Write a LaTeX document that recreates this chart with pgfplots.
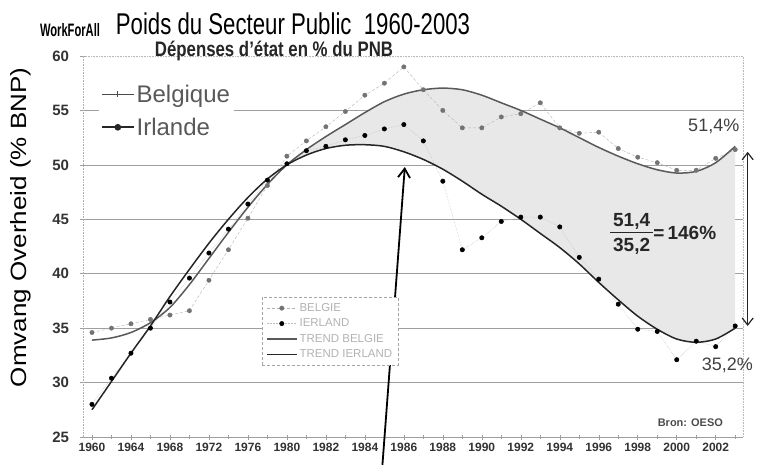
\documentclass[border=0pt]{standalone}
\usepackage{pgfplots}
\pgfplotsset{compat=1.18}
\usepackage{pgfplotstable}
\usepgfplotslibrary{fillbetween}
\usetikzlibrary{arrows.meta,calc}
\usepackage{graphicx}
\usepackage{fontspec}
\setmainfont{Liberation Sans}

% observed values, idx = position on the category axis
\pgfplotstableread{
idx year bel  irl
0  1960 34.6 28.0
1  1962 35.0 30.4
2  1964 35.4 32.7
3  1966 35.8 35.0
4  1968 36.2 37.4
5  1970 36.6 39.6
6  1972 39.4 41.9
7  1974 42.2 44.1
8  1976 45.1 46.4
9  1978 48.1 48.6
10 1980 50.8 50.1
11 1981 52.2 51.3
12 1982 53.5 51.7
13 1983 54.9 52.3
14 1984 56.4 52.7
15 1985 57.5 53.3
16 1986 59.0 53.7
17 1987 56.9 52.2
18 1988 55.0 48.5
19 1989 53.4 42.2
20 1990 53.4 43.3
21 1991 54.4 44.8
22 1992 54.7 45.2
23 1993 55.7 45.2
24 1994 53.4 44.3
25 1995 52.9 41.5
26 1996 53.0 39.5
27 1997 51.5 37.2
28 1998 50.7 34.9
29 1999 50.2 34.7
30 2000 49.5 32.1
31 2001 49.5 33.8
32 2002 50.6 33.3
33 2003 51.4 35.2
}\obs

% trend curves
\pgfplotstableread{
idx tbel  tirl
0  33.9  27.5
1  34.1  30.1
2  34.6  32.7
3  35.5  35.2
4  36.9  37.9
5  39.0  40.4
6  41.4  42.8
7  43.8  45.0
8  46.1  47.0
9  48.2  48.7
10 50.0  50.0
11 51.4  50.9
12 52.6  51.5
13 53.7  51.8
14 54.8  51.85
15 55.8  51.7
16 56.5  51.2
17 56.9  50.5
18 57.05 49.6
19 56.9  48.5
20 56.4  47.3
21 55.7  46.2
22 55.0  45.0
23 54.2  43.7
24 53.4  42.4
25 52.5  40.9
26 51.6  39.2
27 50.8  37.6
28 50.1  36.1
29 49.55 34.9
30 49.25 34.0
31 49.4  33.7
32 50.2  34.0
33 51.7  35.0
}\trend

\newcommand{\fs}[1]{\fontsize{#1}{#1}\selectfont}

\begin{document}
\begin{tikzpicture}
\begin{axis}[
    name=ax, scale only axis, width=660pt, height=381pt,
    xmin=-0.46, xmax=33.4, ymin=25, ymax=60,
    clip=false,
    axis x line*=bottom, axis y line*=left,
    x axis line style={gray!75, line width=0.6pt},
    y axis line style={gray!60, densely dotted, line width=0.6pt},
    xtick={0,2,...,32},
    xticklabels={1960,1964,1968,1972,1976,1980,1982,1984,1986,1988,1990,1992,1994,1996,1998,2000,2002},
    minor xtick={1,3,...,33},
    ytick={25,30,...,60},
    extra y ticks={30,35,...,55}, extra y tick labels={},
    extra y tick style={ymajorgrids=true, major tick length=0pt},
    major grid style={gray!75, line width=0.7pt},
    tick align=center, major tick length=5pt, minor tick length=4pt,
    tick style={gray!75, line width=0.5pt},
    /pgf/number format/assume math mode=true,
    xticklabel style={font=\fs{12}\bfseries, text=black!80},
    yticklabel style={font=\fs{15}\bfseries, text=black!80, xshift=-8pt},
    ylabel={\scalebox{1}[0.85]{Omvang Overheid (\% BNP)}},
    y label style={at={(axis description cs:-0.095,0.55)}, anchor=center, font=\fs{26}},
    legend style={at={(0.271,0.367)}, anchor=north west, draw=gray!70, densely dashed,
        font=\fs{11.5}, text=gray!60, row sep=2pt, inner sep=4pt},
    legend cell align=left,
    legend image code/.code={\draw[mark repeat=2,mark phase=2,#1]
        plot coordinates {(0pt,0pt) (15pt,0pt) (30pt,0pt)};},
]
\addplot[gray!60, densely dashed, line width=0.4pt, mark=*, mark size=2.2pt,
    mark options={solid, fill=black!55, draw=black!55}] table[x=idx,y=bel]{\obs};
\addlegendentry{BELGIE}
\addplot[gray!50, densely dotted, line width=0.5pt, mark=*, mark size=2.2pt,
    mark options={solid, fill=black, draw=black}] table[x=idx,y=irl]{\obs};
\addlegendentry{IERLAND}
\addplot[name path=tb, solid, black!65, line width=1.5pt, smooth] table[x=idx,y=tbel]{\trend};
\addlegendentry{TREND BELGIE}
\addplot[name path=ti, solid, black!85, line width=1.5pt, smooth] table[x=idx,y=tirl]{\trend};
\addlegendentry{TREND IERLAND}
\addplot[fill=gray!18, draw=none, forget plot] fill between[of=tb and ti, soft clip={domain=10:33}];

% top and right frame
\draw[gray!55, densely dotted, line width=0.6pt] (rel axis cs:0,1) -- (rel axis cs:1,1) -- (rel axis cs:1,0);

% annotations
\node[font=\fs{18}, text=black!75] at (axis cs:31.9,53.5) {51,4\%};
\node[font=\fs{18}, text=black!75] at (axis cs:32.6,31.6) {35,2\%};
\node[font=\fs{19}\bfseries, text=black!85, inner sep=0pt] at (axis cs:29.3,43.5)
    {\begin{tabular}{@{\,}c@{\,}}51,4\\[-1pt]\hline\rule{0pt}{20pt}35,2\end{tabular}=\,146\%};
\node[font=\fs{11}\bfseries, text=black!70] at (axis cs:30.7,26.3) {Bron: OESO};
\draw[black, line width=1.8pt, -{Straight Barb[length=9pt, width=12pt]}]
    (axis cs:14.9,22.4) -- (axis cs:16.05,49.8);
\draw[black!85, line width=1.2pt, {Straight Barb[length=7pt, width=11pt]}-{Straight Barb[length=7pt, width=11pt]}]
    (axis cs:33.64,51.2) -- (axis cs:33.64,35.2);
\end{axis}

% second legend (Belgique / Irlande)
\begin{axis}[
    scale only axis, width=660pt, height=381pt,
    at={(ax.south west)}, anchor=south west,
    hide axis, xmin=0, xmax=1, ymin=0, ymax=1,
    legend style={at={(0.024,0.935)}, anchor=north west, draw=none, fill=white,
        font=\fs{24}, text=black!65, row sep=10pt, inner sep=2pt},
    legend cell align=left,
    legend image code/.code={\draw[mark repeat=2,mark phase=2,#1]
        plot coordinates {(0pt,0pt) (16pt,0pt) (32pt,0pt)};},
]
\addlegendimage{black!70, line width=0.9pt, mark=+, mark size=3pt}
\addlegendentry{Belgique}
\addlegendimage{black!85, line width=1.6pt, mark=*, mark size=2.5pt}
\addlegendentry{Irlande}
\end{axis}

% titles
\node[anchor=base, font=\fs{30}] at ($(ax.south west)+(210pt,402pt)$)
    {\scalebox{0.74}[1]{Poids du Secteur Public\ \ 1960-2003}};
\node[anchor=base, font=\fs{21}\bfseries, text=black!85] at ($(ax.south west)+(191pt,380pt)$)
    {\scalebox{0.8}[1]{Dépenses d'état en \% du PNB}};
\node[anchor=base, font=\fs{18}\bfseries] at ($(ax.south west)+(-13pt,400pt)$)
    {\scalebox{0.62}[1]{WorkForAll}};

\pgfresetboundingbox
\path[use as bounding box] ($(ax.south west)+(-83pt,-27pt)$) rectangle ($(ax.south west)+(678pt,437pt)$);
\end{tikzpicture}
\end{document}
